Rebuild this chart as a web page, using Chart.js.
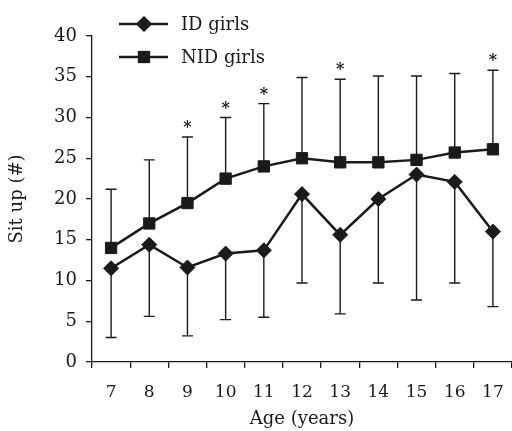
<!DOCTYPE html>
<html>
<head>
<meta charset="utf-8">
<script src="https://cdn.jsdelivr.net/npm/chart.js@4.4.1/dist/chart.umd.min.js"></script>
<style>
  html, body { margin: 0; padding: 0; background: #fff; overflow: hidden; }
  #wrap { width: 512px; height: 431px; }
</style>
</head>
<body>
<div id="wrap"><canvas id="chart"></canvas></div>
<script>
'use strict';

// data
const ages = ['7', '8', '9', '10', '11', '12', '13', '14', '15', '16', '17'];
const idGirls = [11.5, 14.4, 11.6, 13.3, 13.7, 20.6, 15.6, 20.0, 23.0, 22.1, 16.0];
const nidGirls = [14.0, 17.0, 19.5, 22.5, 24.0, 25.0, 24.5, 24.5, 24.8, 25.7, 26.1];
const idLower = [3.0, 5.6, 3.2, 5.2, 5.5, 9.7, 5.9, 9.7, 7.6, 9.7, 6.8];   // ID girls error bar (down)
const nidUpper = [21.2, 24.8, 27.6, 30.0, 31.7, 34.9, 34.7, 35.1, 35.1, 35.4, 35.8]; // NID girls error bar (up)
const significant = ['9', '10', '11', '13', '17'];
const yTicks = [0, 5, 10, 15, 20, 25, 30, 35, 40];

const FONT = 'DejaVu Serif';
const INK = '#1a1a1a';

// error bars + asterisks, drawn under the markers
const errorBars = {
  id: 'errorBars',
  beforeDatasetsDraw(chart) {
    const ctx = chart.ctx;
    const x = chart.scales.x;
    const y = chart.scales.y;
    const cap = 5.5;
    ctx.save();
    ctx.strokeStyle = INK;
    ctx.lineWidth = 1.4;
    for (let i = 0; i < ages.length; i++) {
      let px = x.getPixelForValue(i);
      // NID upward
      let y0 = y.getPixelForValue(nidGirls[i]);
      let y1 = y.getPixelForValue(nidUpper[i]);
      ctx.beginPath();
      ctx.moveTo(px, y0); ctx.lineTo(px, y1);
      ctx.moveTo(px - cap, y1); ctx.lineTo(px + cap, y1);
      ctx.stroke();
      // ID downward
      y0 = y.getPixelForValue(idGirls[i]);
      y1 = y.getPixelForValue(idLower[i]);
      ctx.beginPath();
      ctx.moveTo(px, y0); ctx.lineTo(px, y1);
      ctx.moveTo(px - cap, y1); ctx.lineTo(px + cap, y1);
      ctx.stroke();
      if (significant.includes(ages[i])) {
        ctx.fillStyle = INK;
        ctx.font = 'bold 16px ' + FONT;
        ctx.textAlign = 'center';
        ctx.textBaseline = 'middle';
        ctx.fillText('*', px, y.getPixelForValue(nidUpper[i]) - 9);
      }
    }
    ctx.restore();
  }
};

// stacked legend at the top, like the original
const stackedLegend = {
  id: 'stackedLegend',
  afterDraw(chart) {
    const ctx = chart.ctx;
    const rows = [
      { text: 'ID girls', y: 24, ds: chart.data.datasets[0] },
      { text: 'NID girls', y: 57, ds: chart.data.datasets[1] }
    ];
    ctx.save();
    rows.forEach(r => {
      ctx.strokeStyle = INK;
      ctx.lineWidth = 2.5;
      ctx.beginPath();
      ctx.moveTo(119, r.y); ctx.lineTo(168, r.y);
      ctx.stroke();
      ctx.fillStyle = INK;
      ctx.lineWidth = 1;
      Chart.helpers.drawPoint(ctx, {
        pointStyle: r.ds.pointStyle, radius: r.ds.pointRadius, borderWidth: 1
      }, 144, r.y);
      ctx.fill();
      ctx.font = '18px ' + FONT;
      ctx.textAlign = 'left';
      ctx.textBaseline = 'middle';
      ctx.fillText(r.text, 181, r.y + 1);
    });
    ctx.restore();
  }
};

new Chart(document.getElementById('chart'), {
  type: 'line',
  data: {
    labels: ages,
    datasets: [
      {
        label: 'ID girls',
        data: idGirls,
        borderColor: INK,
        backgroundColor: INK,
        borderWidth: 2.5,
        pointStyle: 'rectRot',
        pointRadius: 7.5,
        pointBorderWidth: 1,
        tension: 0
      },
      {
        label: 'NID girls',
        data: nidGirls,
        borderColor: INK,
        backgroundColor: INK,
        borderWidth: 2.5,
        pointStyle: 'rect',
        pointRadius: 8,
        pointBorderWidth: 1,
        tension: 0
      }
    ]
  },
  options: {
    responsive: true,
    maintainAspectRatio: false,
    animation: false,
    layout: { autoPadding: false, padding: { top: 36, right: 0, left: 0, bottom: 0 } },
    plugins: {
      legend: { display: false },
      tooltip: { enabled: false }
    },
    scales: {
      x: {
        offset: true,
        grid: { offset: true, drawOnChartArea: false, tickLength: 6, color: INK, lineWidth: 1.3 },
        border: { color: INK, width: 1.3 },
        ticks: { color: INK, font: { family: FONT, size: 17 }, padding: 14, maxRotation: 0 },
        title: { display: true, text: 'Age (years)', color: INK, font: { family: FONT, size: 18 }, padding: { top: 0, bottom: 1 } },
        afterFit(scale) {
          scale.height = 69;
          scale.paddingLeft = 0;
          scale.paddingRight = 0;
        }
      },
      y: {
        min: 0,
        max: 40,
        afterBuildTicks(scale) { scale.ticks = yTicks.map(v => ({ value: v })); },
        grid: { drawOnChartArea: false, tickLength: 6, color: INK, lineWidth: 1.3 },
        border: { color: INK, width: 1.3 },
        ticks: { color: INK, font: { family: FONT, size: 18 }, padding: 9 },
        title: { display: true, text: 'Sit up (#)', color: INK, font: { family: FONT, size: 18 }, padding: { top: 7, bottom: 0 } },
        afterFit(scale) { scale.width = 92; }
      }
    }
  },
  plugins: [errorBars, stackedLegend]
});
</script>
</body>
</html>
